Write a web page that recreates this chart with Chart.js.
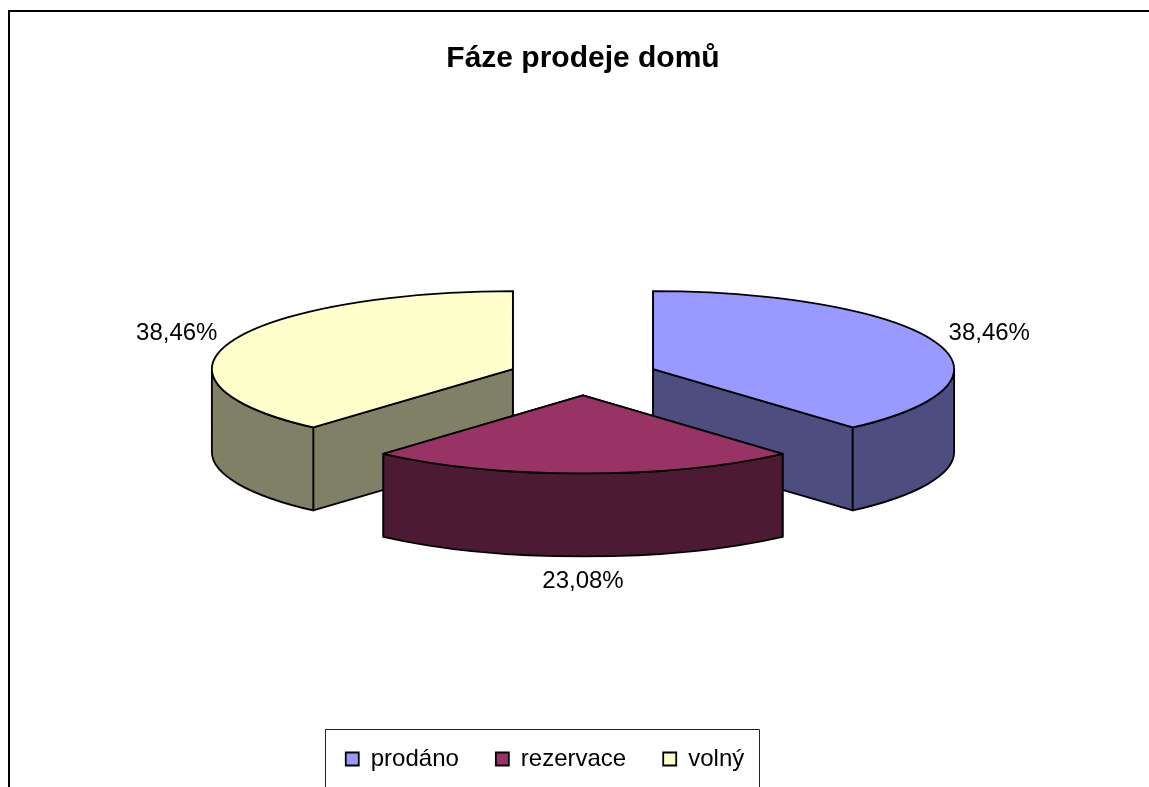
<!DOCTYPE html>
<html>
<head>
<meta charset="utf-8">
<style>html,body{margin:0;padding:0;background:#fff}canvas{display:block}</style>
<script src="https://cdn.jsdelivr.net/npm/chart.js@4"></script>
</head>
<body>
<canvas id="c" width="1149" height="787"></canvas>
<script>
const chartTitle = 'Fáze prodeje domů';
const categories = ['prodáno', 'rezervace', 'volný'];
const values = [5, 3, 5];
const topColors = ['#9999FF', '#993366', '#FFFFCC'];
const sideColors = ['#4D4D80', '#4D1A33', '#808066'];

const FONT = '"Liberation Sans", Arial, sans-serif';
const TILT = 0.259, DEPTH = 83, PIE_CY = 376, EXPLODE = 75;

function baseY(chart) {
  return (chart.chartArea.top + chart.chartArea.bottom) / 2;
}
function sliceGeom(chart, el) {
  const p = el.getProps(['x', 'y', 'startAngle', 'endAngle', 'outerRadius'], true);
  return {
    ax: p.x,
    ay: PIE_CY + (p.y - baseY(chart)) * TILT,
    r: p.outerRadius,
    s: p.startAngle,
    e: p.endAngle,
    mid: (p.startAngle + p.endAngle) / 2
  };
}
function rim(g, a, d) {
  return [g.ax + Math.cos(a) * g.r, g.ay + Math.sin(a) * g.r * TILT + (d || 0)];
}
function poly(ctx, pts, fill) {
  ctx.beginPath();
  pts.forEach((q, i) => i ? ctx.lineTo(q[0], q[1]) : ctx.moveTo(q[0], q[1]));
  ctx.closePath();
  ctx.fillStyle = fill;
  ctx.fill();
  ctx.stroke();
}

const pie3d = {
  id: 'pie3d',
  afterLayout(chart) {
    const lg = chart.legend;
    lg.left -= 38; lg.right -= 38;
    lg.top -= 6; lg.bottom -= 6;
  },
  afterDatasetsUpdate(chart) {
    // pull each slice away from the pie centre along its own mid-angle
    chart.getDatasetMeta(0).data.forEach(el => {
      const mid = (el.startAngle + el.endAngle) / 2;
      el.x += Math.cos(mid) * EXPLODE;
      el.y += Math.sin(mid) * EXPLODE;
    });
  },
  beforeDraw(chart) {
    const ctx = chart.ctx;
    ctx.save();
    ctx.fillStyle = '#fff';
    ctx.fillRect(0, 0, chart.width, chart.height);
    ctx.strokeStyle = '#000';
    ctx.lineWidth = 2;
    ctx.beginPath();
    ctx.moveTo(9, chart.height);
    ctx.lineTo(9, 11);
    ctx.lineTo(chart.width, 11);
    ctx.stroke();
    const boxes = chart.legend.legendHitBoxes;
    const first = boxes[0], last = boxes[boxes.length - 1];
    const l = Math.round(first.left) - 21 + 0.5;
    const rgt = Math.round(last.left + last.width) + 15 + 0.5;
    const t = Math.round(first.top) - 18 + 0.5;
    ctx.strokeStyle = '#222';
    ctx.lineWidth = 1;
    ctx.beginPath();
    ctx.moveTo(l, chart.height + 5);
    ctx.lineTo(l, t);
    ctx.lineTo(rgt, t);
    ctx.lineTo(rgt, chart.height + 5);
    ctx.stroke();
    ctx.restore();
  },
  beforeDatasetDraw(chart) {
    const ctx = chart.ctx;
    const arcs = chart.getDatasetMeta(0).data;
    ctx.save();
    ctx.strokeStyle = '#000';
    ctx.lineWidth = 1.8;
    ctx.lineJoin = 'round';
    [0, 2, 1].forEach(i => {
      const g = sliceGeom(chart, arcs[i]);
      [g.s, g.e].forEach(a => {
        poly(ctx, [[g.ax, g.ay], rim(g, a), rim(g, a, DEPTH), [g.ax, g.ay + DEPTH]], sideColors[i]);
      });
      const a0 = Math.max(g.s, 0), a1 = Math.min(g.e, Math.PI);
      if (a0 < a1) {
        ctx.beginPath();
        ctx.ellipse(g.ax, g.ay, g.r, g.r * TILT, 0, a0, a1);
        ctx.ellipse(g.ax, g.ay + DEPTH, g.r, g.r * TILT, 0, a1, a0, true);
        ctx.closePath();
        ctx.fillStyle = sideColors[i];
        ctx.fill();
        ctx.stroke();
      }
    });
    ctx.restore();
    // The slices themselves are drawn by Chart.js, squashed onto the tilted plane
    ctx.save();
    ctx.translate(0, PIE_CY);
    ctx.scale(1, TILT);
    ctx.translate(0, -baseY(chart));
  },
  afterDatasetDraw(chart) {
    const ctx = chart.ctx;
    ctx.restore();
    const arcs = chart.getDatasetMeta(0).data;
    const total = values.reduce((a, b) => a + b, 0);
    ctx.save();
    ctx.strokeStyle = '#000';
    ctx.lineWidth = 1.8;
    ctx.lineJoin = 'round';
    arcs.forEach(el => {
      const g = sliceGeom(chart, el);
      ctx.beginPath();
      ctx.moveTo(g.ax, g.ay);
      ctx.ellipse(g.ax, g.ay, g.r, g.r * TILT, 0, g.s, g.e);
      ctx.closePath();
      ctx.stroke();
    });
    ctx.fillStyle = '#000';
    ctx.font = '24px ' + FONT;
    ctx.textBaseline = 'middle';
    arcs.forEach((el, i) => {
      const g = sliceGeom(chart, el);
      const txt = (values[i] / total * 100).toFixed(2).replace('.', ',') + '%';
      const [ex, ey] = rim(g, g.mid);
      if (Math.sin(g.mid) > 0.9) {
        ctx.textAlign = 'center';
        ctx.fillText(txt, ex, ey + DEPTH + 25);
      } else if (Math.cos(g.mid) > 0) {
        ctx.textAlign = 'left';
        ctx.fillText(txt, ex + 14, ey - 8);
      } else {
        ctx.textAlign = 'right';
        ctx.fillText(txt, ex - 14, ey - 8);
      }
    });
    ctx.restore();
  }
};

new Chart(document.getElementById('c'), {
  type: 'pie',
  data: {
    labels: categories,
    datasets: [{
      data: values,
      backgroundColor: topColors,
      borderWidth: 0,
      radius: 301,
      clip: false
    }]
  },
  options: {
    responsive: false,
    animation: false,
    events: [],
    layout: {padding: {left: 17}},
    plugins: {
      title: {
        display: true,
        text: chartTitle,
        color: '#000',
        font: {family: FONT, size: 30, weight: 'bold'},
        padding: {top: 41, bottom: 8}
      },
      legend: {
        display: true,
        position: 'bottom',
        labels: {
          boxWidth: 13,
          boxHeight: 13,
          padding: 37,
          color: '#000',
          font: {family: FONT, size: 24},
          generateLabels() {
            return categories.map((t, i) => ({
              text: t,
              fillStyle: topColors[i],
              strokeStyle: '#000',
              lineWidth: 1.8,
              hidden: false,
              index: i
            }));
          }
        }
      },
      tooltip: {enabled: false}
    }
  },
  plugins: [pie3d]
});
</script>
</body>
</html>
